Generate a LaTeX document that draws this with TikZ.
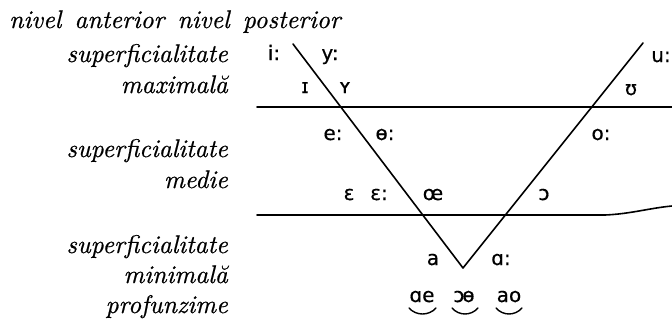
\documentclass[tikz,border=0pt]{standalone}
\usepackage{fontspec}
\newfontfamily\ipafont{DejaVu Sans}[FakeBold=0.5]
\newfontfamily\lblfont{lmroman10-italic.otf}[FakeBold=0.6]
\begin{document}
\begin{tikzpicture}[x=1pt,y=-1pt,
  lbl/.style={font=\fontsize{25.5}{30}\selectfont\lblfont, inner sep=0pt, anchor=base east},
  ipa/.style={font=\fontsize{20}{22}\selectfont\ipafont, inner sep=0pt, anchor=base},
  ln/.style={line width=1.6pt, line cap=round, line join=round},
  tie/.style={line width=1.4pt, line cap=round}]
\useasboundingbox (0,0) rectangle (672,324);
% axis labels
\node[lbl, anchor=base west] (head) at (9,28) {nivel\hspace{4pt} anterior\hspace{4pt} nivel\hspace{4pt} posterior};
\node[lbl] (s1) at (228,62) {superficialitate};
\node[lbl] (s1b) at (228,93) {maximală};
\node[lbl] (s2) at (228,157) {superficialitate};
\node[lbl] (s2b) at (228,188) {medie};
\node[lbl] (s3) at (228,253) {superficialitate};
\node[lbl] (s3b) at (228,283) {minimală};
\node[lbl] (s4) at (228,313) {profunzime};
% lines
\coordinate (lt) at (293,44);
\coordinate (rt) at (643,43);
\coordinate (v) at (463,268);
\coordinate (h1a) at (257,107);
\coordinate (h1b) at (672,107);
\coordinate (h2a) at (257,215);
\coordinate (h2m) at (605,215);
\coordinate (h2b) at (672,206);
\draw[ln] (lt) -- (v) -- (rt);
\draw[ln] (h1a) -- (h1b);
\draw[ln] (h2a) -- (h2m) .. controls (630,214) and (650,208) .. (h2b);
% vowels
\node[ipa] (i) at (274,60) {i:};
\node[ipa] (y) at (330,60) {y:};
\node[ipa] (I) at (305,93) {ɪ};
\node[ipa] (Y) at (345,93) {ʏ};
\node[ipa] (e) at (333,140) {e:};
\node[ipa] (oe) at (385,140) {ɵ:};
\node[ipa] (U) at (631,95) {ʊ};
\node[ipa] (u) at (661,62) {u:};
\node[ipa] (o) at (601,140) {o:};
\node[ipa] (E1) at (349,200) {ɛ};
\node[ipa] (E2) at (379,200) {ɛ:};
\node[ipa] (OE) at (433,200) {œ};
\node[ipa] (O) at (544,200) {ɔ};
\node[ipa] (a) at (433,265) {a};
\node[ipa] (A) at (501,265) {ɑ:};
\node[ipa] (d1) at (422,302) {ɑe};
\node[ipa] (d2) at (464,302) {ɔ\kern-2ptɵ};
\node[ipa] (d3) at (509,302) {ao};
% ties
\coordinate (t1a) at (409,308); \coordinate (t1b) at (436,308);
\coordinate (t2a) at (452,308); \coordinate (t2b) at (478,308);
\coordinate (t3a) at (496,308); \coordinate (t3b) at (522,308);
\draw[tie] (t1a) .. controls (416,316) and (429,316) .. (t1b);
\draw[tie] (t2a) .. controls (459,316) and (471,316) .. (t2b);
\draw[tie] (t3a) .. controls (503,316) and (515,316) .. (t3b);
\end{tikzpicture}
\end{document}
